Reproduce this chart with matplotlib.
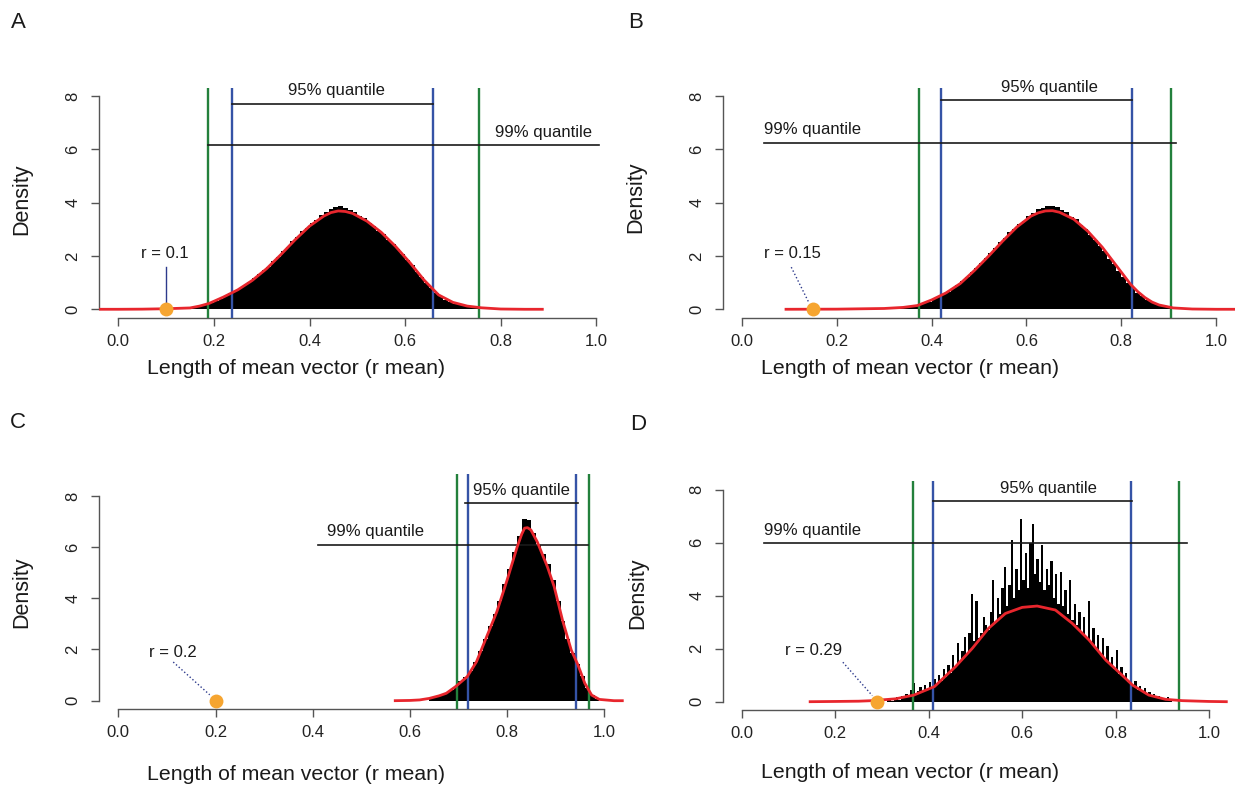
import numpy as np
import matplotlib
matplotlib.use("Agg")
import matplotlib.pyplot as plt

plt.rcParams['font.family'] = ['Liberation Sans', 'DejaVu Sans']

# ---------------- data ----------------
x_ticks = [0.0, 0.2, 0.4, 0.6, 0.8, 1.0]
x_tick_labels = ['0.0', '0.2', '0.4', '0.6', '0.8', '1.0']
y_ticks = [0, 2, 4, 6, 8]
y_tick_labels = ['0', '2', '4', '6', '8']
panel_labels = ['A', 'B', 'C', 'D']
x_label = 'Length of mean vector (r mean)'
y_label = 'Density'
q95_text = '95% quantile'
q99_text = '99% quantile'

observed_r = [0.1, 0.15, 0.2, 0.29]
observed_labels = ['r = 0.1', 'r = 0.15', 'r = 0.2', 'r = 0.29']
q95_low = [0.237, 0.420, 0.720, 0.410]
q95_high = [0.659, 0.822, 0.941, 0.832]
q99_low = [0.188, 0.373, 0.697, 0.367]
q99_high = [0.755, 0.906, 0.968, 0.935]

# histogram bar heights (density), left edge of first bin and bin width
a_hist_start, a_hist_width = 0.15, 0.01
a_hist = [0.06, 0.09, 0.14, 0.20, 0.25, 0.32, 0.40, 0.49, 0.61, 0.69,
          0.81, 0.92, 1.01, 1.17, 1.31, 1.46, 1.60, 1.80, 1.97, 2.18,
          2.34, 2.55, 2.71, 2.92, 3.05, 3.24, 3.35, 3.52, 3.64, 3.76,
          3.82, 3.86, 3.80, 3.74, 3.66, 3.51, 3.42, 3.25, 3.12, 2.94,
          2.81, 2.61, 2.45, 2.25, 2.07, 1.85, 1.65, 1.41, 1.21, 0.97,
          0.81, 0.62, 0.50, 0.36, 0.29, 0.21, 0.17, 0.12, 0.10, 0.07,
          0.05, 0.03, 0.02, 0.01]

b_hist_start, b_hist_width = 0.30, 0.01
b_hist = [0.03, 0.04, 0.05, 0.06, 0.08, 0.10, 0.13, 0.17, 0.22, 0.29,
          0.37, 0.46, 0.57, 0.66, 0.80, 0.91, 1.06, 1.21, 1.39, 1.54,
          1.73, 1.91, 2.13, 2.29, 2.51, 2.67, 2.89, 3.03, 3.21, 3.33,
          3.51, 3.61, 3.76, 3.81, 3.88, 3.86, 3.83, 3.72, 3.65, 3.47,
          3.37, 3.17, 3.02, 2.80, 2.61, 2.38, 2.17, 1.90, 1.71, 1.45,
          1.23, 0.97, 0.79, 0.61, 0.49, 0.35, 0.27, 0.18, 0.12, 0.08,
          0.05, 0.03, 0.02]

c_hist_start, c_hist_width = 0.64, 0.01
c_hist = [0.10, 0.15, 0.22, 0.30, 0.42, 0.58, 0.75, 0.92, 1.15, 1.50,
          1.95, 2.40, 2.90, 3.40, 3.90, 4.55, 5.15, 5.80, 6.45, 7.10,
          7.05, 6.55, 6.10, 5.75, 5.35, 4.70, 3.90, 3.10, 2.40, 1.85,
          1.45, 0.95, 0.50, 0.22, 0.08]

d_hist_start, d_hist_width = 0.30, 0.005
d_hist = [0.04, 0.00, 0.06, 0.10, 0.03, 0.12, 0.18, 0.08, 0.20, 0.14,
          0.28, 0.18, 0.45, 0.70, 0.30, 0.40, 0.55, 0.35, 0.62, 0.48,
          0.75, 0.55, 0.85, 0.65, 1.00, 0.80, 1.25, 0.95, 1.40, 1.10,
          1.75, 1.30, 2.20, 1.55, 1.90, 2.45, 1.80, 2.60, 4.05, 2.30,
          3.80, 2.40, 2.60, 3.20, 2.90, 2.70, 3.40, 4.60, 3.00, 3.90,
          3.30, 4.30, 5.10, 3.60, 4.40, 6.10, 3.90, 5.00, 4.20, 6.90,
          4.60, 5.60, 4.30, 6.00, 6.70, 4.80, 5.40, 4.50, 5.90, 4.20,
          5.00, 4.40, 5.30, 3.90, 4.80, 3.70, 4.90, 3.60, 4.20, 3.30,
          4.60, 3.10, 3.70, 2.90, 3.40, 2.60, 3.20, 2.40, 3.80, 2.20,
          2.80, 2.00, 2.50, 1.80, 2.40, 1.60, 2.10, 1.40, 1.70, 1.25,
          1.95, 1.05, 1.30, 0.90, 1.10, 0.75, 0.85, 0.60, 0.80, 0.45,
          0.60, 0.40, 0.50, 0.30, 0.38, 0.22, 0.28, 0.15, 0.20, 0.10,
          0.14, 0.06, 0.18, 0.03]

# fitted density curves
a_curve_x = [-0.04, 0.0, 0.05, 0.10, 0.15, 0.17, 0.19, 0.22, 0.25, 0.28, 0.31, 0.34,
             0.37, 0.40, 0.43, 0.445, 0.46, 0.475, 0.49, 0.52, 0.55, 0.58, 0.61, 0.64,
             0.67, 0.70, 0.73, 0.76, 0.80, 0.85, 0.89]
a_curve_y = [0.0, 0.0, 0.005, 0.02, 0.05, 0.12, 0.22, 0.46, 0.73, 1.08, 1.52, 2.05,
             2.61, 3.12, 3.50, 3.63, 3.69, 3.67, 3.60, 3.31, 2.89, 2.36, 1.75, 1.09,
             0.54, 0.26, 0.12, 0.055, 0.01, 0.0, 0.0]

b_curve_x = [0.09, 0.20, 0.30, 0.34, 0.37, 0.40, 0.43, 0.46, 0.49, 0.52, 0.55, 0.58,
             0.61, 0.625, 0.64, 0.655, 0.67, 0.70, 0.73, 0.76, 0.79, 0.805, 0.82,
             0.835, 0.85, 0.865, 0.88, 0.91, 0.95, 1.0, 1.04]
b_curve_y = [0.0, 0.005, 0.03, 0.07, 0.14, 0.35, 0.61, 0.96, 1.45, 1.99, 2.56, 3.09,
             3.50, 3.62, 3.69, 3.70, 3.64, 3.38, 2.92, 2.33, 1.63, 1.28, 0.93,
             0.66, 0.44, 0.27, 0.16, 0.05, 0.01, 0.0, 0.0]

c_curve_x = [0.567, 0.60, 0.62, 0.64, 0.66, 0.675, 0.694, 0.718, 0.737, 0.758, 0.779,
             0.80, 0.821, 0.83, 0.836, 0.842, 0.849, 0.862, 0.883, 0.897, 0.914,
             0.932, 0.946, 0.96, 0.974, 0.99, 1.02, 1.04]
c_curve_y = [0.0, 0.01, 0.03, 0.09, 0.19, 0.29, 0.55, 0.94, 1.52, 2.50, 3.48,
             4.71, 6.02, 6.50, 6.74, 6.76, 6.67, 6.21, 5.23, 4.45, 3.15,
             1.98, 1.39, 0.68, 0.22, 0.05, 0.0, 0.0]

d_curve_x = [0.143, 0.20, 0.25, 0.279, 0.329, 0.368, 0.412, 0.457, 0.493, 0.528,
             0.564, 0.60, 0.632, 0.671, 0.707, 0.743, 0.779, 0.814, 0.836, 0.871,
             0.907, 0.943, 1.0, 1.04]
d_curve_y = [0.0, 0.01, 0.02, 0.04, 0.11, 0.25, 0.57, 1.32, 2.01, 2.77,
             3.33, 3.56, 3.61, 3.46, 2.96, 2.33, 1.57, 1.00, 0.63, 0.25,
             0.09, 0.04, 0.01, 0.0]

hists = [(a_hist_start, a_hist_width, a_hist), (b_hist_start, b_hist_width, b_hist),
         (c_hist_start, c_hist_width, c_hist), (d_hist_start, d_hist_width, d_hist)]
curves = [(a_curve_x, a_curve_y), (b_curve_x, b_curve_y),
          (c_curve_x, c_curve_y), (d_curve_x, d_curve_y)]

# ---------------- layout (pixels from top-left) ----------------
W, H = 1238, 785
# left, right, top, bottom of plot region
regions = [(99.2, 615.4, 87.6, 317.8), (723.0, 1235.0, 87.6, 317.8),
           (98.9, 623.7, 474.4, 709.4), (723.3, 1227.7, 481.2, 710.2)]
ylims = [(-0.32, 8.32), (-0.32, 8.32), (-0.34, 8.84), (-0.32, 8.32)]
letter_pos = [(18, 22), (636, 22), (18, 423), (638, 424)]
ylabel_pos = [(22, 199), (636, 197), (22, 592), (638, 593)]
xlabel_pos = [(296, 369), (910, 368), (296, 775), (910, 772)]

q95_line = [(7.70, 0.237, 0.659), (7.84, 0.420, 0.823), (7.73, 0.714, 0.946), (7.57, 0.408, 0.836)]
q95_text_pos = [(0.456, 8.20), (0.648, 8.34), (0.830, 8.23), (0.656, 8.06)]
q99_line = [(6.15, 0.188, 1.005), (6.24, 0.047, 0.915), (6.10, 0.411, 0.966), (5.98, 0.048, 0.952)]
q99_text_pos = [(0.890, 6.65, 'center'), (0.047, 6.74, 'left'), (0.430, 6.60, 'left'), (0.048, 6.46, 'left')]
r_text_pos = [(0.098, 2.10), (0.107, 2.10), (0.112, 1.90), (0.153, 1.93)]
r_line = [((0.100, 1.58), (0.100, 0.29), '-'), ((0.104, 1.58), (0.140, 0.29), ':'),
          ((0.113, 1.51), (0.188, 0.23), ':'), ((0.216, 1.49), (0.279, 0.23), ':')]

GREEN = '#23803C'
BLUE = '#3553A6'
RED = '#E8262D'
ORANGE = '#F6A530'
NAVY = '#2D3A8C'
AXC = '#555555'
TXT = '#1a1a1a'

fig = plt.figure(figsize=(W / 100, H / 100), dpi=100)

for i in range(4):
    l, r, t, b = regions[i]
    ax = fig.add_axes([l / W, 1 - b / H, (r - l) / W, (b - t) / H])
    ax.set_xlim(-0.04, 1.04)
    ax.set_ylim(*ylims[i])

    start, width, vals = hists[i]
    edges = start + width * np.arange(len(vals) + 1)
    ax.stairs(vals, edges, fill=True, color='black', linewidth=0, zorder=2)

    ax.axvline(q99_low[i], color=GREEN, lw=1.7, zorder=3)
    ax.axvline(q99_high[i], color=GREEN, lw=1.7, zorder=3)
    ax.axvline(q95_low[i], color=BLUE, lw=1.7, zorder=3)
    ax.axvline(q95_high[i], color=BLUE, lw=1.7, zorder=3)

    y95, x0, x1 = q95_line[i]
    ax.plot([x0, x1], [y95, y95], color=TXT, lw=1.2, zorder=4)
    ax.text(q95_text_pos[i][0], q95_text_pos[i][1], q95_text, ha='center', va='center',
            fontsize=12, color=TXT)
    y99, x0, x1 = q99_line[i]
    ax.plot([x0, x1], [y99, y99], color=TXT, lw=1.2, zorder=4)
    tx, ty, tha = q99_text_pos[i]
    ax.text(tx, ty, q99_text, ha=tha, va='center', fontsize=12, color=TXT)

    cx, cy = curves[i]
    ax.plot(cx, cy, color=RED, lw=2.0, zorder=5, solid_capstyle='butt')

    (lx0, ly0), (lx1, ly1), ls = r_line[i]
    ax.plot([lx0, lx1], [ly0, ly1], color=NAVY, lw=1.0, ls=ls, zorder=5)
    ax.text(r_text_pos[i][0], r_text_pos[i][1], observed_labels[i], ha='center', va='center',
            fontsize=12, color=TXT)
    ax.plot([observed_r[i]], [0], 'o', color=ORANGE, ms=10, mec='none', zorder=6, clip_on=False)

    for s in ['top', 'right']:
        ax.spines[s].set_visible(False)
    ax.spines['left'].set_bounds(0, 8)
    ax.spines['bottom'].set_bounds(0, 1)
    for s in ['left', 'bottom']:
        ax.spines[s].set_color(AXC)
        ax.spines[s].set_linewidth(1.0)
    ax.set_xticks(x_ticks)
    ax.set_xticklabels(x_tick_labels)
    ax.set_yticks(y_ticks)
    ax.set_yticklabels(y_tick_labels, rotation=90, va='center')
    ax.tick_params(axis='both', direction='out', length=5.5, width=1.0, color=AXC,
                   labelsize=12, labelcolor='#222222')
    ax.tick_params(axis='x', pad=6)
    ax.tick_params(axis='y', pad=8)
    ax.patch.set_alpha(0)

    fig.text(letter_pos[i][0] / W, 1 - letter_pos[i][1] / H, panel_labels[i], ha='center',
             va='center', fontsize=16, color=TXT)
    fig.text(ylabel_pos[i][0] / W, 1 - ylabel_pos[i][1] / H, y_label, ha='center',
             va='center', rotation=90, fontsize=15.5, color=TXT)
    fig.text(xlabel_pos[i][0] / W, 1 - xlabel_pos[i][1] / H, x_label, ha='center',
             va='center', fontsize=15.3, color=TXT)

fig.savefig('out.png', dpi=100)
